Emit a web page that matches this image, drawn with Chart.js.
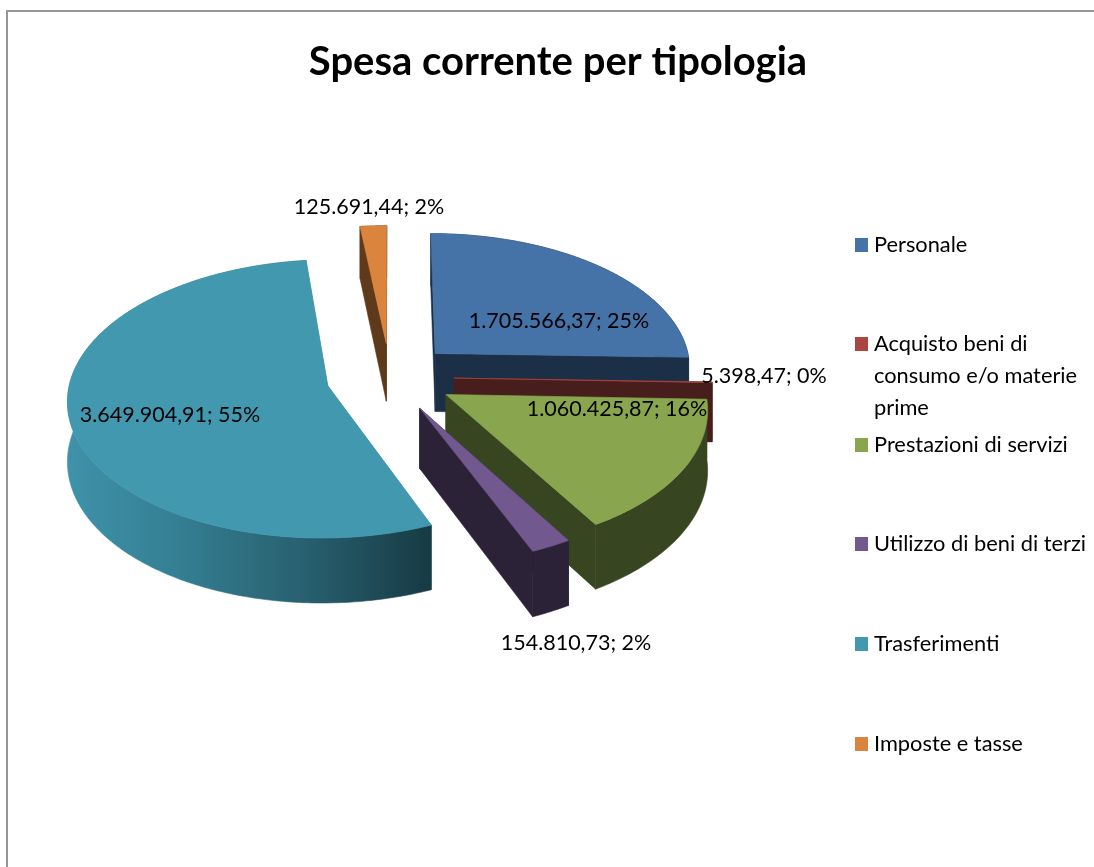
<!DOCTYPE html>
<html><head><meta charset="utf-8">
<style>html,body{margin:0;padding:0;background:#fff}#w{position:absolute;left:0;top:0;width:1094px;height:867px}</style>
<script src="https://cdn.jsdelivr.net/npm/chart.js@4"></script>
</head><body><div id="w"><canvas id="c" width="1094" height="867"></canvas></div>
<script>
const chartTitle = 'Spesa corrente per tipologia';
const categories = ['Personale','Acquisto beni di consumo e/o materie prime','Prestazioni di servizi','Utilizzo di beni di terzi','Trasferimenti','Imposte e tasse'];
const legendLines = [['Personale'],['Acquisto beni di','consumo e/o materie','prime'],['Prestazioni di servizi'],['Utilizzo di beni di terzi'],['Trasferimenti'],['Imposte e tasse']];
const spesa = [1705566.37,5398.47,1060425.87,154810.73,3649904.91,125691.44];
const percentLabels = [25,0,16,2,55,2];
const topColors = ['#4572A7','#AA4643','#89A54E','#71588F','#4198AF','#DB843D'];
const wallColors = ['#1B2F47','#481E1C','#384521','#2C2238','#3D8FA5','#5E3A1A'];
const labelCenters = [[559,321],[764,376],[617,409],[576,643],[170,415],[369,207]];
const legendTop = [245,344,445,544,644,744];

const FONT = 'Lato, Carlito, sans-serif';
const TILT = 0.535, PERSP = 0.00037, DEPTH = 59;
const fmt = v => v.toLocaleString('it-IT',{minimumFractionDigits:2,maximumFractionDigits:2,useGrouping:'always'});

function project(cx,cy,mx,my,z){
  const s = 1 + PERSP*my;
  return [cx + mx*s, cy + my*TILT*s + z*DEPTH*s];
}
function fillPoly(ctx,pts,fill){
  ctx.beginPath();
  pts.forEach((p,i)=> i? ctx.lineTo(p[0],p[1]) : ctx.moveTo(p[0],p[1]));
  ctx.closePath();
  ctx.fillStyle = fill; ctx.strokeStyle = fill; ctx.lineWidth = .6;
  ctx.fill(); ctx.stroke();
}
const pie3d = {
  id:'pie3d',
  beforeDatasetsDraw(chart){
    const ctx = chart.ctx, arcs = chart.getDatasetMeta(0).data;
    const order = arcs.map((el,i)=>{
      const mid=(el.startAngle+el.endAngle)/2; return {el,i,mid,key:Math.sin(mid)};
    }).sort((a,b)=>a.key-b.key);
    order.forEach(({el,i,mid})=>{
      const R = el.outerRadius, off = el.options.offset;
      const ax = Math.cos(mid)*off, ay = Math.sin(mid)*off;
      const P=(mx,my,z)=>project(el.x,el.y,mx,my,z);
      const n = Math.max(2,Math.ceil((el.endAngle-el.startAngle)/0.015));
      const rim=[];
      for(let k=0;k<=n;k++){
        const a = el.startAngle+(el.endAngle-el.startAngle)*k/n;
        rim.push([ax+Math.cos(a)*R, ay+Math.sin(a)*R]);
      }
      const top = rim.map(p=>P(p[0],p[1],0)), bot = rim.map(p=>P(p[0],p[1],1));
      const a0=P(ax,ay,0), a1=P(ax,ay,1);
      const solid = wallColors[i];
      fillPoly(ctx,[a0,top[0],bot[0],a1],solid);
      fillPoly(ctx,[a0,top[n],bot[n],a1],solid);
      let wall = solid;
      if(i===4){
        const xs=top.map(p=>p[0]);
        const g = ctx.createLinearGradient(Math.min(...xs),0,top[0][0],0);
        g.addColorStop(0,'#3F92A9'); g.addColorStop(.3,'#347F93'); g.addColorStop(.65,'#28606F'); g.addColorStop(1,'#173A44');
        wall = g;
      }
      fillPoly(ctx,top.concat(bot.slice().reverse()),wall);
      fillPoly(ctx,[a0,...top],topColors[i]);
    });
    return false;
  },
  afterDraw(chart){
    const ctx = chart.ctx;
    ctx.save();
    ctx.strokeStyle='#969696'; ctx.lineWidth=2;
    ctx.beginPath(); ctx.moveTo(7,867); ctx.lineTo(7,11); ctx.lineTo(1094,11); ctx.stroke();
    ctx.fillStyle='#000'; ctx.textBaseline='middle'; ctx.textAlign='center';
    ctx.font='bold 40px '+FONT;
    ctx.fillText(chartTitle,558,62);
    ctx.font='21.5px '+FONT;
    spesa.forEach((v,i)=>{
      ctx.fillText(fmt(v)+'; '+percentLabels[i]+'%',labelCenters[i][0],labelCenters[i][1]);
    });
    ctx.textAlign='left';
    ctx.font='21.8px '+FONT;
    legendLines.forEach((lines,i)=>{
      ctx.fillStyle=topColors[i];
      ctx.fillRect(855,legendTop[i]-7,13,14);
      ctx.fillStyle='#000';
      lines.forEach((t,j)=>ctx.fillText(t,874,legendTop[i]+j*32));
    });
    ctx.restore();
  }
};
new Chart(document.getElementById('c'),{
  type:'pie',
  data:{labels:categories,datasets:[{data:spesa,backgroundColor:topColors,offset:64,borderWidth:0,radius:257}]},
  options:{
    responsive:false,animation:false,
    layout:{padding:{left:0,top:0,right:314,bottom:113}},
    plugins:{legend:{display:false},title:{display:false,text:chartTitle},tooltip:{enabled:false}}
  },
  plugins:[pie3d]
});
</script></body></html>
